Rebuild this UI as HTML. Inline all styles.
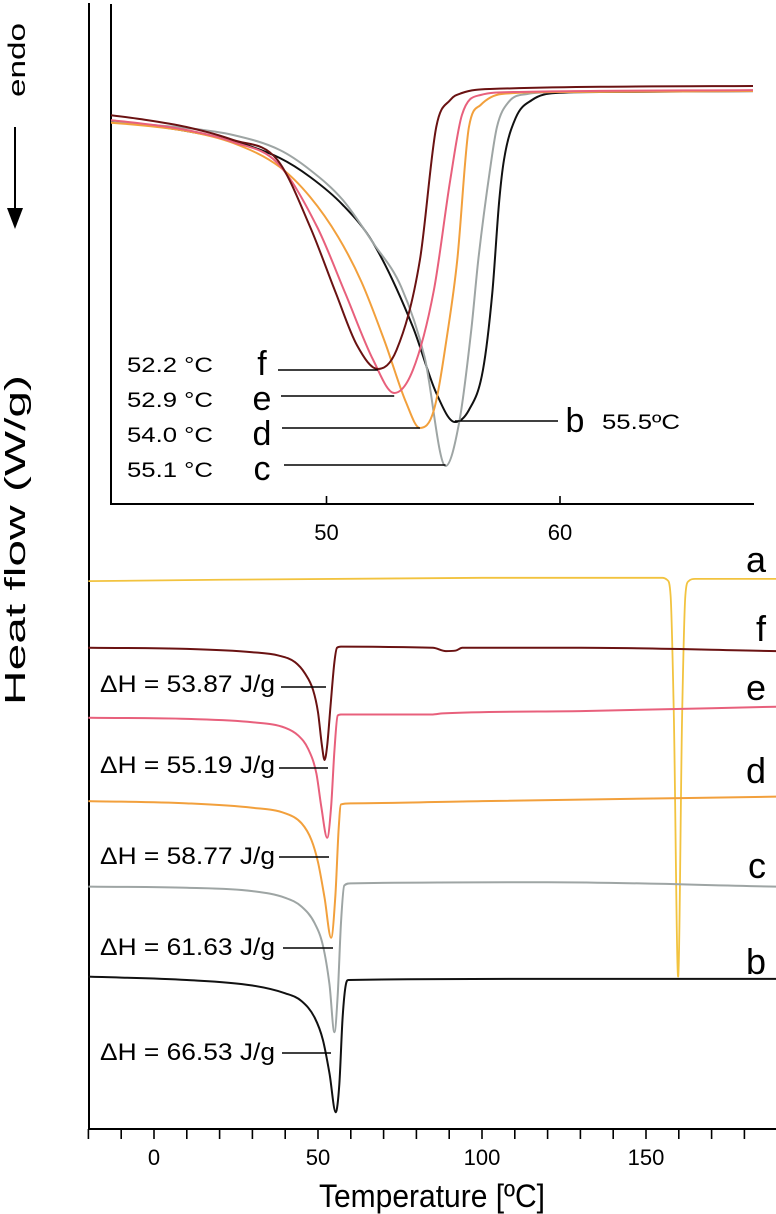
<!DOCTYPE html>
<html><head><meta charset="utf-8"><style>
html,body{margin:0;padding:0;background:#fff;}
svg{display:block;font-family:"Liberation Sans",Arial,sans-serif;}
</style></head><body>
<svg id="chart" width="776" height="1214" viewBox="0 0 776 1214" xmlns="http://www.w3.org/2000/svg">
<defs><clipPath id="insetClip"><rect x="111" y="0" width="642" height="505"/></clipPath></defs>
<g id="main"></g>
<g id="inset"></g>
<g>
  <text transform="translate(25,60) rotate(-90)" text-anchor="middle" font-size="24" textLength="74" lengthAdjust="spacingAndGlyphs">endo</text>
  <line x1="15" y1="127" x2="15" y2="212" stroke="#000" stroke-width="2"/>
  <polygon points="7,208 23,208 15,229" fill="#000"/>
  <text transform="translate(25,540) rotate(-90)" text-anchor="middle" font-size="29" textLength="330" lengthAdjust="spacingAndGlyphs">Heat flow (W/g)</text>
</g>
</svg>
<script>
// ---------- main chart data (temperature °C, heat flow offset, arbitrary W/g units) ----------
const mainSeriesNames = ["a","f","e","d","c","b"];
const aT = [-20,100,155,156.5,157.5,158.5,159.8,161,162,163,165,190];
const aV = [5.52,5.55,5.55,5.53,5.39,4.29,1.96,4.29,5.39,5.52,5.54,5.54];
const fT = [-20,10,30,38,43,46,48.5,50,51.2,52,52.8,53.8,55,55.8,57,85,89,92,94,130,190];
const fV = [4.92,4.91,4.88,4.85,4.79,4.69,4.54,4.34,4.04,3.91,4.04,4.39,4.79,4.92,4.93,4.92,4.89,4.895,4.92,4.92,4.89];
const eT = [-20,10,30,40,44,47,49.5,51,52.8,54,55,56,57,85,88,130,190];
const eV = [4.29,4.28,4.25,4.20,4.13,4.01,3.79,3.49,3.21,3.49,3.99,4.31,4.32,4.32,4.33,4.35,4.39];
const dT = [-20,10,30,40,45,48,50,52,54,55.3,56.3,57,60,100,190];
const dV = [3.54,3.52,3.48,3.43,3.34,3.19,2.99,2.67,2.31,2.69,3.29,3.51,3.52,3.54,3.58];
const cT = [-20,10,30,40,45,49,51.5,53.5,55,56,57,58,60,120,190];
const cV = [2.77,2.76,2.73,2.67,2.59,2.44,2.24,1.89,1.46,1.79,2.44,2.78,2.80,2.81,2.77];
const bT = [-20,10,30,40,45,49,51.5,53.5,55.4,56.5,57.5,58.5,59.3,120,190];
const bV = [1.96,1.93,1.88,1.81,1.74,1.59,1.39,1.09,0.74,0.99,1.59,1.89,1.93,1.94,1.94];
const mainTickValues = [-20,-10,0,10,20,30,40,50,60,70,80,90,100,110,120,130,140,150,160,170,180,190];
const mainTickLabels = ["0","50","100","150"];
const dHLabels = ["ΔH = 53.87 J/g","ΔH = 55.19 J/g","ΔH = 58.77 J/g","ΔH = 61.63 J/g","ΔH = 66.53 J/g"];

// ---------- inset data ----------
const insetNames = ["f","e","d","c","b"];
const ifT = [40,42,44,46,47.9,49.3,50.4,51.3,52.2,53,54,54.7,55.3,55.8,57,68.8];
const ifV = [-0.26,-0.32,-0.40,-0.53,-0.73,-1.40,-2.06,-2.58,-2.82,-2.63,-1.73,-0.40,-0.13,-0.06,-0.02,0.01];
const ieT = [40,44,46,47.9,49.6,50.8,52,52.9,53.7,54.6,55.3,55.8,56.6,58,68.8];
const ieV = [-0.31,-0.43,-0.55,-0.76,-1.40,-2.06,-2.73,-3.06,-2.83,-2.03,-0.93,-0.28,-0.08,-0.05,-0.03];
const idT = [40,44,46,48,49.3,50.5,51.5,52.5,53.4,54,54.6,55.2,55.6,56.1,56.6,57.5,60,68.8];
const idV = [-0.34,-0.44,-0.56,-0.80,-1.10,-1.50,-1.95,-2.55,-3.15,-3.41,-3.23,-2.43,-1.73,-0.40,-0.18,-0.07,-0.05,-0.04];
const icT = [40,44,46,48,49.3,50.7,52,53.2,54.2,55.1,55.7,56.2,56.5,57,57.3,57.8,58.6,60,68.8];
const icV = [-0.34,-0.41,-0.48,-0.63,-0.83,-1.13,-1.56,-2.00,-2.70,-3.79,-3.33,-2.43,-1.73,-0.83,-0.40,-0.15,-0.07,-0.05,-0.04];
const ibT = [40,44,46,48,49.3,50.7,52,53.7,54.7,55.5,56.1,56.7,57.1,57.4,57.6,58.1,58.8,59.8,62,68.8];
const ibV = [-0.31,-0.44,-0.54,-0.71,-0.90,-1.18,-1.56,-2.40,-3.06,-3.35,-3.23,-2.83,-2.06,-1.13,-0.73,-0.31,-0.13,-0.06,-0.05,-0.04];
const insetTickValues = [50,60];
const insetPeakTemps = [52.2,52.9,54.0,55.1,55.5];
const insetPeakLabels = ["52.2 °C","52.9 °C","54.0 °C","55.1 °C","55.5ºC"];

const NS = "http://www.w3.org/2000/svg";
function mk(tag, attrs, parent){const e=document.createElementNS(NS,tag);for(const k in attrs)e.setAttribute(k,attrs[k]);parent.appendChild(e);return e;}
function monoPath(p){
  const n=p.length, d=[], m=new Array(n);
  for(let i=0;i<n-1;i++) d.push((p[i+1][1]-p[i][1])/(p[i+1][0]-p[i][0]));
  m[0]=d[0]; m[n-1]=d[n-2];
  for(let i=1;i<n-1;i++){ m[i]=(d[i-1]*d[i]<=0)?0:(d[i-1]+d[i])/2; }
  for(let i=0;i<n-1;i++){
    if(d[i]===0){m[i]=0;m[i+1]=0;continue;}
    const a=m[i]/d[i], b=m[i+1]/d[i], s=a*a+b*b;
    if(s>9){const t=3/Math.sqrt(s); m[i]=t*a*d[i]; m[i+1]=t*b*d[i];}
  }
  let s="M"+p[0][0].toFixed(2)+","+p[0][1].toFixed(2);
  for(let i=0;i<n-1;i++){
    const h=p[i+1][0]-p[i][0];
    s+="C"+(p[i][0]+h/3).toFixed(2)+","+(p[i][1]+m[i]*h/3).toFixed(2)+" "+(p[i+1][0]-h/3).toFixed(2)+","+(p[i+1][1]-m[i+1]*h/3).toFixed(2)+" "+p[i+1][0].toFixed(2)+","+p[i+1][1].toFixed(2);
  }
  return s;
}
const AXY = 1129;
const mx = t => 154 + 3.28*t;
const my = v => 1194.4 - 111.1*v;
const ix = t => 326.5 + 23.35*(t-50);
const iy = v => 87 - 100*v;

const main=document.getElementById("main");
const colors={a:"#f2c33f",f:"#6a1212",e:"#e8607c",d:"#f2a03c",c:"#9ea5a4",b:"#111111"};

let el=mk("line",{x1:89,y1:3,x2:89,y2:AXY,stroke:"#000","stroke-width":2},main);


el=mk("line",{x1:88,y1:AXY,x2:776,y2:AXY,stroke:"#000","stroke-width":2},main);


mainTickValues.forEach(t=>{
  const e=mk("line",{x1:mx(t),y1:AXY,x2:mx(t),y2:AXY+10,stroke:"#000","stroke-width":1.6},main);
  
  
});
mainTickLabels.forEach(s=>{
  const e=mk("text",{x:mx(+s),y:AXY+36,"text-anchor":"middle","font-size":22},main);
  e.textContent=s;
  
  
});
el=mk("text",{x:432,y:1207,"text-anchor":"middle","font-size":32,textLength:226,lengthAdjust:"spacingAndGlyphs"},main);
el.textContent="Temperature [ºC]";



const mainData={a:[aT,aV],f:[fT,fV],e:[eT,eV],d:[dT,dV],c:[cT,cV],b:[bT,bV]};
mainSeriesNames.forEach(n=>{
  const [T,V]=mainData[n];
  const pts=T.map((t,i)=>[mx(t),my(V[i])]);
  const p=mk("path",{d:monoPath(pts),fill:"none",stroke:colors[n],"stroke-width":n==="a"?1.8:2,"stroke-linejoin":"round"},main);
  
  
});
const letterY={a:560,f:629,e:688,d:771,c:866,b:962};
mainSeriesNames.forEach(n=>{
  const e=mk("text",{x:766,y:letterY[n]+12,"text-anchor":"end","font-size":36},main);
  e.textContent=n;
  
  
});
const dHY=[683,764,855,946,1051];
const leadY=[687,768,857,948,1053];
const leadX1=[281,279,279,283,282];
const leadX2=[326,328,329,333,331];
dHLabels.forEach((s,i)=>{
  const e=mk("text",{x:100,y:dHY[i]+9,"font-size":24,textLength:175,lengthAdjust:"spacingAndGlyphs"},main);
  e.textContent=s;
  
  
  const l=mk("line",{x1:leadX1[i],y1:leadY[i],x2:leadX2[i],y2:leadY[i],stroke:"#000","stroke-width":1.6},main);
  
  
});

// inset
const inset=document.getElementById("inset");
el=mk("rect",{x:111,y:4,width:665,height:500,fill:"#fff"},inset);


el=mk("line",{x1:111,y1:4,x2:111,y2:504,stroke:"#000","stroke-width":2},inset);


el=mk("line",{x1:110,y1:504,x2:754,y2:504,stroke:"#000","stroke-width":2},inset);


insetTickValues.forEach(t=>{
  const e=mk("line",{x1:ix(t),y1:504,x2:ix(t),y2:496,stroke:"#000","stroke-width":1.6},inset);
  
  
  const tx=mk("text",{x:ix(t),y:540,"text-anchor":"middle","font-size":22},inset);
  tx.textContent=String(t);
  
  
});
const insetData={f:[ifT,ifV],e:[ieT,ieV],d:[idT,idV],c:[icT,icV],b:[ibT,ibV]};
const clipG=mk("g",{"clip-path":"url(#insetClip)"},inset);
["b","c","d","e","f"].forEach(n=>{
  const [T,V]=insetData[n];
  const pts=T.map((t,i)=>[ix(t),iy(V[i])]);
  const p=mk("path",{d:monoPath(pts),fill:"none",stroke:colors[n],"stroke-width":2,"stroke-linejoin":"round"},clipG);
  
  
});
const rowY=[364,399,434,469];
const lineY=[370,396,428,465];
const lineX1=[278,281,282,284];
for(let i=0;i<4;i++){
  const t=mk("text",{x:127,y:rowY[i]+8,"font-size":21,textLength:86,lengthAdjust:"spacingAndGlyphs"},inset);
  t.textContent=insetPeakLabels[i];
  
  
  const L=mk("text",{x:262,y:rowY[i]+11,"text-anchor":"middle","font-size":34},inset);
  L.textContent=insetNames[i];
  
  
  const l=mk("line",{x1:lineX1[i],y1:lineY[i],x2:ix(insetPeakTemps[i]),y2:lineY[i],stroke:"#000","stroke-width":1.6},inset);
  
  
}
el=mk("line",{x1:ix(insetPeakTemps[4]),y1:421,x2:558,y2:421,stroke:"#000","stroke-width":1.6},inset);


el=mk("text",{x:575,y:432,"text-anchor":"middle","font-size":34},inset);
el.textContent="b";


el=mk("text",{x:602,y:429,"font-size":21,textLength:78,lengthAdjust:"spacingAndGlyphs"},inset);
el.textContent=insetPeakLabels[4];


</script>
</body></html>
